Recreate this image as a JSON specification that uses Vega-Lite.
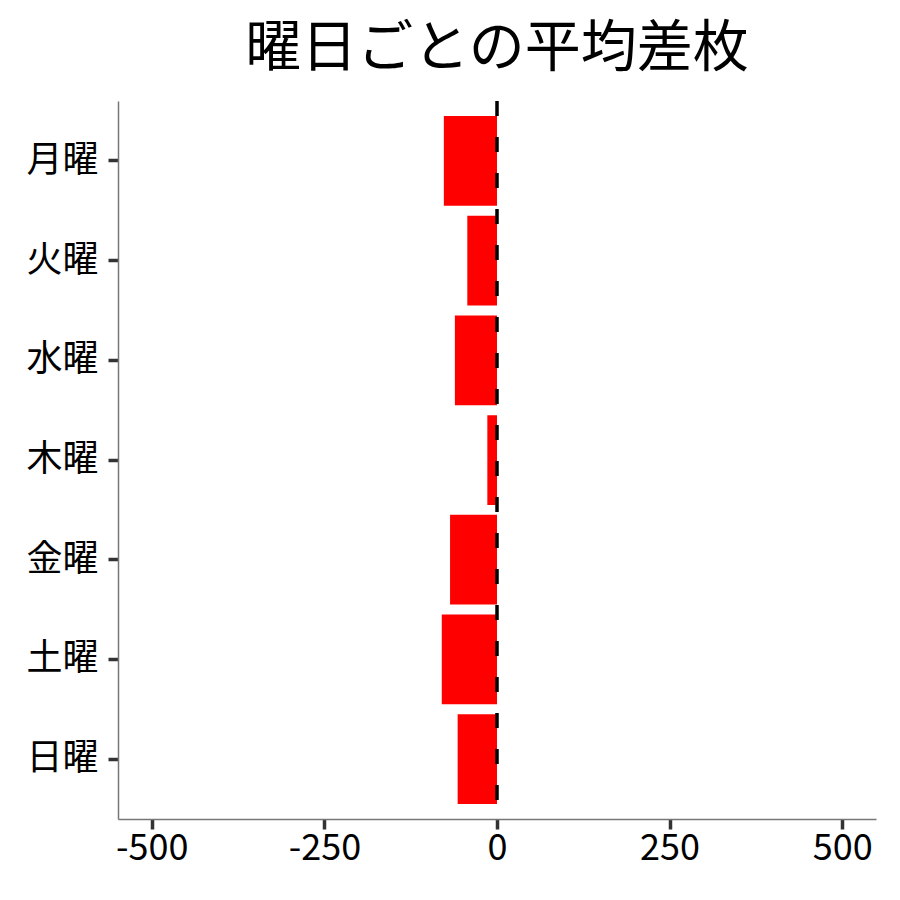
{
  "$schema": "https://vega.github.io/schema/vega-lite/v6.json",
  "autosize": {"type": "none"},
  "padding": {"left": 118, "top": 101, "right": 24, "bottom": 81},
  "width": 758,
  "height": 718,
  "background": "white",
  "title": {
    "text": "曜日ごとの平均差枚",
    "font": "Noto Sans CJK JP",
    "fontSize": 56,
    "fontWeight": "normal",
    "color": "black",
    "anchor": "middle",
    "offset": 21
  },
  "config": {
    "view": {"stroke": null},
    "axis": {
      "labelFont": "Noto Sans CJK JP",
      "labelFontSize": 36,
      "labelColor": "black",
      "domainColor": "#777777",
      "domainWidth": 1.5,
      "tickColor": "#333333",
      "tickWidth": 3.5,
      "tickSize": 10,
      "grid": false,
      "title": null
    }
  },
  "data": {
    "values": [
      {"day": "月曜", "diff": -77},
      {"day": "火曜", "diff": -43},
      {"day": "水曜", "diff": -61},
      {"day": "木曜", "diff": -14},
      {"day": "金曜", "diff": -68},
      {"day": "土曜", "diff": -80},
      {"day": "日曜", "diff": -57}
    ]
  },
  "layer": [
    {
      "mark": {"type": "bar", "color": "#ff0000"},
      "encoding": {
        "y": {
          "field": "day",
          "type": "nominal",
          "sort": null,
          "scale": {"paddingInner": 0.1, "paddingOuter": 0.15},
          "axis": {"labelPadding": 10}
        },
        "x": {
          "field": "diff",
          "type": "quantitative",
          "scale": {"domain": [-549, 549], "nice": false, "zero": false},
          "axis": {
            "values": [-500, -250, 0, 250, 500],
            "labelExpr": "'' + datum.value",
            "labelPadding": 2,
            "labelFlush": false
          }
        }
      }
    },
    {
      "data": {"values": [{"x": 0}]},
      "mark": {"type": "rule", "color": "black", "strokeWidth": 3.5, "strokeDash": [15, 21]},
      "encoding": {
        "x": {"field": "x", "type": "quantitative"}
      }
    }
  ]
}
